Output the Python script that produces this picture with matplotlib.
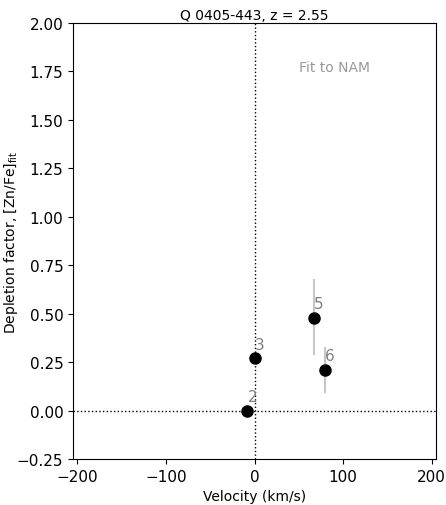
import matplotlib
matplotlib.use("Agg")
import matplotlib.pyplot as plt

labels = ["2", "3", "5", "6"]
velocity = [-8, 0, 67, 80]
depletion = [0.0, 0.27, 0.48, 0.21]
err_lo = [0.0, 0.0, 0.195, 0.12]
err_hi = [0.0, 0.0, 0.20, 0.12]

fig = plt.figure(figsize=(4.46, 5.06), dpi=100)
ax = fig.add_axes([73/446, 1-460/506, (436-73)/446, (460-24)/506])

for v, d, lo, hi in zip(velocity, depletion, err_lo, err_hi):
    if lo > 0 or hi > 0:
        ax.errorbar(v, d, yerr=[[lo], [hi]], fmt='none', ecolor='#bbbbbb', elinewidth=1.2, capsize=0, zorder=1)
ax.plot(velocity, depletion, 'o', color='black', markersize=8, zorder=3)
for v, d, lab in zip(velocity, depletion, labels):
    ax.annotate(lab, (v, d), xytext=(0, 7), textcoords='offset points', color='grey', fontsize=11)

ax.axhline(0, color='black', linestyle=':', linewidth=1)
ax.axvline(0, color='black', linestyle=':', linewidth=1)

ax.text(90, 1.775, "Fit to NAM", color='#999999', fontsize=10, ha='center', va='center')

ax.set_xlim(-205, 205)
ax.set_ylim(-0.25, 2.0)
ax.set_xticks([-200, -100, 0, 100, 200])
ax.set_yticks([-0.25, 0, 0.25, 0.5, 0.75, 1.0, 1.25, 1.5, 1.75, 2.0])
ax.tick_params(labelsize=11)
ax.set_xlabel("Velocity (km/s)", fontsize=10)
ax.set_ylabel(r"Depletion factor, [Zn/Fe]$_{\rm fit}$", fontsize=10)
ax.yaxis.set_label_coords(-0.147, 0.5)
ax.set_title("Q 0405-443, z = 2.55", fontsize=10, pad=3)

fig.savefig("out.png", dpi=100)
